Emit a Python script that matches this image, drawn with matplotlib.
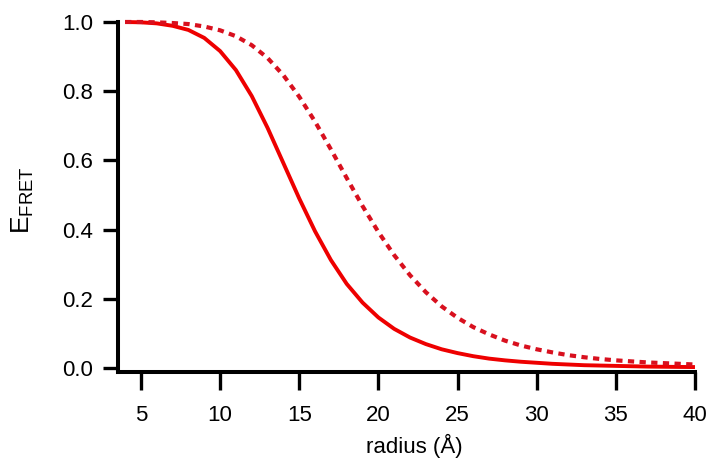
import matplotlib
matplotlib.use("Agg")
import matplotlib.pyplot as plt

# radius (Angstrom) and FRET efficiency
radius = [4, 5, 6, 7, 8, 9, 10, 11, 12, 13, 14, 15, 16, 17, 18, 19, 20, 21, 22,
          23, 24, 25, 26, 27, 28, 29, 30, 31, 32, 33, 34, 35, 36, 37, 38, 39, 40]
e_solid = [1.000, 0.999, 0.996, 0.989, 0.977, 0.954, 0.916, 0.861, 0.786, 0.694,
           0.592, 0.490, 0.395, 0.312, 0.243, 0.189, 0.146, 0.113, 0.088, 0.069,
           0.054, 0.043, 0.034, 0.027, 0.022, 0.018, 0.015, 0.012, 0.010, 0.008,
           0.007, 0.006, 0.005, 0.004, 0.0035, 0.003, 0.0026]
e_dashed = [1.000, 1.000, 0.999, 0.997, 0.994, 0.987, 0.976, 0.959, 0.933, 0.896,
            0.846, 0.784, 0.712, 0.632, 0.549, 0.468, 0.393, 0.326, 0.268, 0.219,
            0.178, 0.145, 0.118, 0.097, 0.079, 0.065, 0.054, 0.045, 0.037, 0.031,
            0.026, 0.022, 0.019, 0.016, 0.014, 0.012, 0.010]
x_ticks = [5, 10, 15, 20, 25, 30, 35, 40]
y_ticks = [0.0, 0.2, 0.4, 0.6, 0.8, 1.0]

plt.rcParams['font.family'] = ['Liberation Sans', 'DejaVu Sans']
plt.rcParams['mathtext.fontset'] = 'custom'
plt.rcParams['mathtext.rm'] = 'Liberation Sans'

fig = plt.figure(figsize=(7.09, 4.61), dpi=100)
ax = fig.add_axes([0.1664, 0.1931, 0.8138, 0.7592])

ax.plot(radius, e_solid, color='#ee0000', lw=2.8, clip_on=False,
        solid_capstyle='butt', solid_joinstyle='round')
ax.plot(radius, e_dashed, color='#d8101e', lw=3.0, clip_on=False,
        dashes=(1.5, 1.3))

ax.set_xlim(3.55, 40)
ax.set_ylim(-0.0116, 1.0)
ax.set_xticks(x_ticks)
ax.set_yticks(y_ticks)
ax.set_yticklabels(['%.1f' % v for v in y_ticks])

for s in ['top', 'right']:
    ax.spines[s].set_visible(False)
for s in ['left', 'bottom']:
    ax.spines[s].set_linewidth(2.9)
    ax.spines[s].set_capstyle('projecting')

ax.tick_params(axis='both', direction='out', width=2.4, labelsize=16,
               color='black')
ax.tick_params(axis='y', length=11, pad=7)
ax.tick_params(axis='x', length=13, pad=11)

ax.set_xlabel(u'radius (\u00c5)', fontsize=16)
ax.xaxis.set_label_coords(0.513, -0.178)
ax.set_ylabel(r'E$_{\mathrm{FRET}}$', fontsize=19)
ax.yaxis.set_label_coords(-0.142, 0.49)

fig.savefig('out.png', dpi=100)
